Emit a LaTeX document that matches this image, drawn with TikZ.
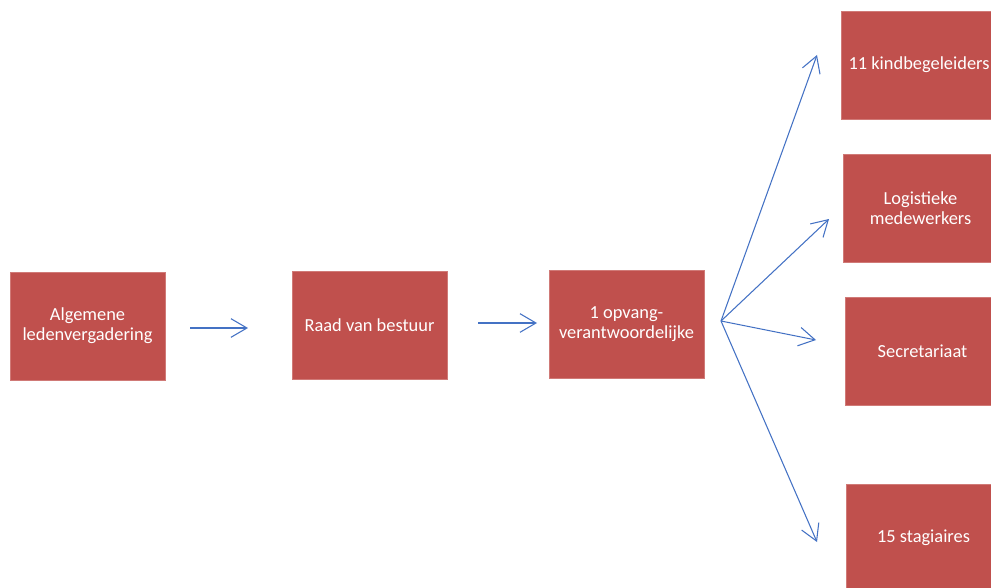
\documentclass[tikz,border=0pt]{standalone}
\usepackage{fontspec}
\setmainfont{Carlito}
\usetikzlibrary{arrows.meta}
\definecolor{boxred}{HTML}{C0504D}
\definecolor{boxedge}{HTML}{D07A77}
\definecolor{arrblue}{HTML}{4472C4}
\begin{document}
\begin{tikzpicture}[x=0.75pt,y=-0.75pt,
  box/.style={fill=boxred,draw=boxedge,line width=0.5pt,minimum width=116.25pt,minimum height=81pt,inner sep=0pt,text=white,align=center,font=\fontsize{13.8}{15.2}\selectfont},
  arr/.style={draw=arrblue,line width=0.8pt,-{Straight Barb[length=12pt,width=14pt,line width=0.8pt]}}]
\useasboundingbox (0,0) rectangle (991,588);
\clip (0,0) rectangle (991,588);
\node[box] (alv) at (87.5,326) {Algemene\\ledenvergadering};
\node[box] (rvb) at (369.5,325) {Raad van bestuur};
\node[box] (ov) at (626.5,324) {1 opvang-\\verantwoordelijke};
\node[box] (kb) at (919,65) {11 kindbegeleiders};
\node[box] (lm) at (920.5,208.5) {Logistieke\\medewerkers};
\node[box] (sec) at (922.5,351) {Secretariaat};
\node[box] (st) at (923.5,538) {15 stagiaires};
\coordinate (a1s) at (190,328);
\coordinate (a1e) at (248,328);
\coordinate (a2s) at (478,323);
\coordinate (a2e) at (537,323);
\coordinate (hub) at (721,321);
\coordinate (e1) at (817,55);
\coordinate (e2) at (829,219);
\coordinate (e3) at (816,340);
\coordinate (e4) at (817,542);
\draw[arr] (a1s) -- (a1e);
\draw[arr] (a2s) -- (a2e);
\draw[arr] (hub) -- (e1);
\draw[arr] (hub) -- (e2);
\draw[arr] (hub) -- (e3);
\draw[arr] (hub) -- (e4);
\end{tikzpicture}
\end{document}
